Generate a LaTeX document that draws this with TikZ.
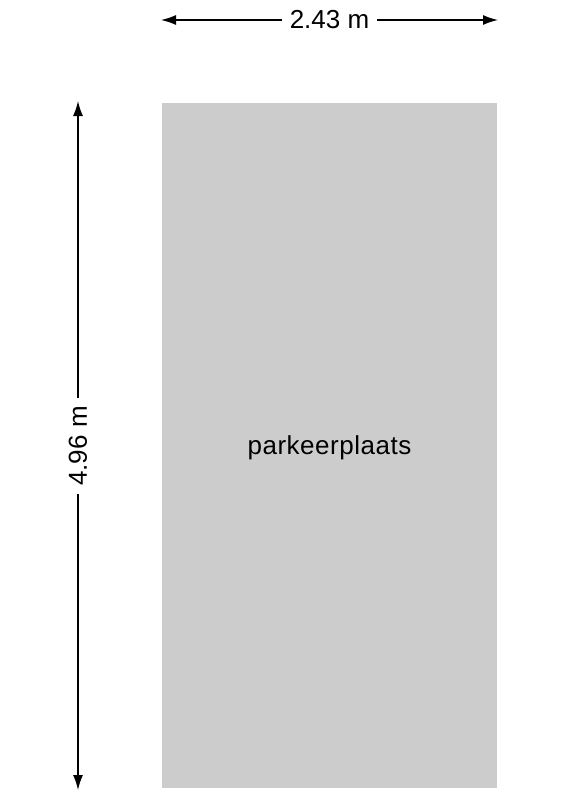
\documentclass[tikz,border=0pt]{standalone}
\usepackage{fontspec}
\setmainfont{Liberation Sans}
\usetikzlibrary{arrows.meta}
\definecolor{lotgray}{HTML}{CCCCCC}

\begin{document}
\begin{tikzpicture}[x=1pt,y=-1pt,
  dimline/.style={line width=1.4pt,-{Latex[length=15pt,width=10pt]}},
  dimlabel/.style={fill=white,inner xsep=8pt,inner ysep=2pt,font=\fontsize{26}{30}\selectfont}]
\useasboundingbox (0,0) rectangle (566,800);

%parking lot
\fill[lotgray] (162,103) rectangle (497,788);
\node[font=\fontsize{26}{30}\selectfont\addfontfeature{LetterSpace=2}] (lot) at (329.5,448) {parkeerplaats};

%width
\coordinate (wl) at (161,20);
\coordinate (wr) at (498,20);
\node[dimlabel] (wlbl) at (329.5,20) {2.43 m};
\draw[dimline] (wlbl) -- (wl);
\draw[dimline] (wlbl) -- (wr);

%depth
\coordinate (dt) at (78,101);
\coordinate (db) at (78,790);
\node[dimlabel,rotate=90] (dlbl) at (78,446) {4.96 m};
\draw[dimline] (dlbl) -- (dt);
\draw[dimline] (dlbl) -- (db);
\end{tikzpicture}
\end{document}
